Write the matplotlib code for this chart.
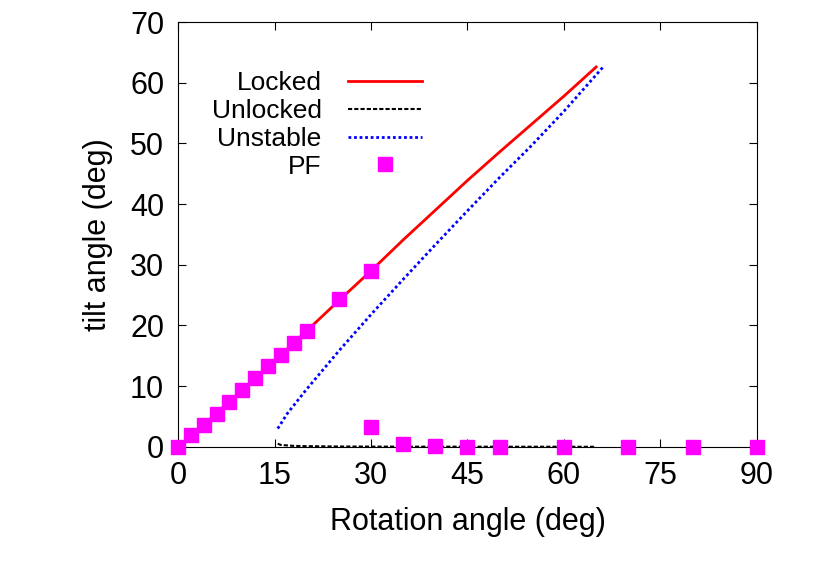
import matplotlib
matplotlib.use("Agg")
import matplotlib.pyplot as plt
plt.rcParams['font.family'] = ['Liberation Sans', 'DejaVu Sans']

locked_x = [0, 5, 10, 15, 20, 25, 30, 35, 40, 45, 50, 55, 60, 65]
locked_y = [0, 4.6, 9.4, 14.2, 19.1, 24.1, 29.0, 34.1, 39.0, 43.9, 48.6, 53.2, 57.8, 62.6]
unlocked_x = [15.5, 16, 18, 20, 25, 30, 40, 50, 60, 65]
unlocked_y = [0.5, 0.3, 0.15, 0.1, 0.05, 0.03, 0.02, 0.01, 0.01, 0.0]
unstable_x = [15.5, 17, 20, 25, 30, 35, 40, 45, 50, 55, 60, 66]
unstable_y = [3.0, 5.5, 9.5, 15.8, 21.8, 27.6, 33.3, 38.9, 44.4, 49.7, 55.3, 62.5]
pf_x = [0, 2, 4, 6, 8, 10, 12, 14, 16, 18, 20, 25, 30, 30, 35, 40, 45, 50, 60, 70, 80, 90]
pf_y = [0, 1.9, 3.6, 5.4, 7.4, 9.4, 11.4, 13.3, 15.2, 17.1, 19.1, 24.3, 29.0, 3.2, 0.5, 0.1, 0, 0, 0, 0, 0, 0]

fig = plt.figure(figsize=(8.3, 5.81), dpi=100)
ax = fig.add_axes([0.2145, 0.231, 0.6975, 0.731])
ax.plot(locked_x, locked_y, color="red", lw=2, label="Locked")
ax.plot(unlocked_x, unlocked_y, color="black", lw=1.5, ls=(0, (2, 1)), label="Unlocked")
ax.plot(unstable_x, unstable_y, color="blue", lw=2, ls=(0, (1, 1)), label="Unstable")
ax.plot(pf_x, pf_y, ls="none", marker="s", ms=10, color="magenta", label="PF", clip_on=False, zorder=5)
ax.set_xlim(0, 90)
ax.set_ylim(0, 70)
ax.set_xticks(range(0, 91, 15))
ax.set_yticks(range(0, 71, 10))
ax.tick_params(direction="in", top=True, right=True, labelsize=22, length=6, pad=10)
ax.set_xlabel("Rotation angle (deg)", fontsize=22, labelpad=12)
ax.set_ylabel("tilt angle (deg)", fontsize=22, labelpad=12)
ax.legend(loc="upper left", bbox_to_anchor=(0.04, 0.91), frameon=False, markerfirst=False,
          fontsize=19, handlelength=2.8, labelspacing=0.15, borderaxespad=0.0, handletextpad=1.0)
fig.savefig("out.png", dpi=100)
